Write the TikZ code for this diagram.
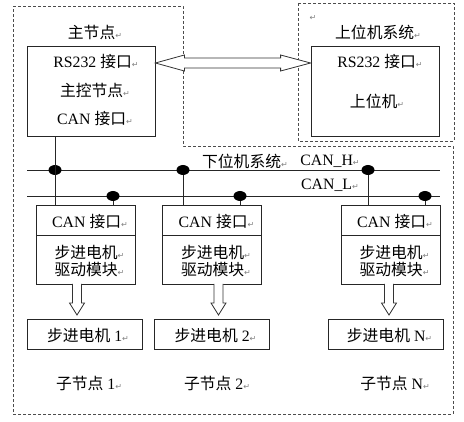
\documentclass[tikz,border=0pt]{standalone}
\usepackage{fontspec}
\setmainfont{Liberation Serif}
\newfontfamily\cjk{Noto Sans CJK SC}
\newfontfamily\symf{DejaVu Sans}
\usetikzlibrary{shapes.geometric,calc}
\newcommand\rmark{{\symf\fontsize{8}{8}\selectfont\color{gray}↵}}
\begin{document}
\begin{tikzpicture}[x=1pt,y=-1pt,
  box/.style={draw=black!85,line width=0.8pt,inner sep=0pt},
  txt/.style={inner sep=0pt,font=\fontsize{15.8}{17}\selectfont},
  dashbox/.style={draw=black!70,line width=0.9pt,dash pattern=on 3pt off 2pt},
  dot/.style={ellipse,fill=black,inner sep=0pt,minimum width=13pt,minimum height=10pt},
  bus/.style={line width=0.9pt,black!85},
  hollow/.style={draw=black!80,fill=white,line width=0.8pt,line join=miter}]
\useasboundingbox (0,0) rectangle (464,422);
% dashed outlines
\draw[dashbox] (13,6) -- (183,6) -- (183,146) -- (453,146) -- (453,414) -- (13,414) -- cycle;
\draw[dashbox] (298,3) rectangle (454,141);
% master box
\node[box,minimum width=128pt,minimum height=90pt] (master) at (91,91) {};
\node[txt] (tmaster) at (95,32) {\cjk 主节点\rmark};
\node[txt] (m1) at (96,62) {RS232 {\cjk 接口}\rmark};
\node[txt] (m2) at (95,90) {\cjk 主控节点\rmark};
\node[txt] (m3) at (95,119) {CAN {\cjk 接口}\rmark};
% upper computer box
\node[box,minimum width=128pt,minimum height=90pt] (upper) at (375,91) {};
\node[txt] (tupper) at (378,32) {\cjk 上位机系统\rmark};
\node[inner sep=0pt] (uret) at (313,18) {\rmark};
\node[txt] (u1) at (380,62) {RS232 {\cjk 接口}\rmark};
\node[txt] (u2) at (377,101) {\cjk 上位机\rmark};
% double arrow
\coordinate (aL) at (master.east |- 0,63);
\coordinate (aR) at (upper.west |- 0,63);
\draw[hollow] (aL) -- ($(aL)+(29,-8)$) -- ($(aL)+(29,-5)$) -- ($(aR)+(-30,-5)$) -- ($(aR)+(-30,-8)$) -- (aR)
  -- ($(aR)+(-30,8)$) -- ($(aR)+(-30,5)$) -- ($(aL)+(29,5)$) -- ($(aL)+(29,8)$) -- cycle;
% lower system labels
\node[txt] (tlower) at (245,161) {\cjk 下位机系统\rmark};
\node[txt] (th) at (330,161) {CAN\_H\rmark};
\node[txt] (tl) at (330,185) {CAN\_L\rmark};
% buses
\coordinate (hL) at (27,170); \coordinate (hR) at (440,170);
\coordinate (lL) at (27,196); \coordinate (lR) at (440,196);
\draw[bus] (hL) -- (hR);
\draw[bus] (lL) -- (lR);
% sub nodes
\foreach \i/\cx/\mx/\ax/\lx/\n in {1/85.5/84.5/77/89/1, 2/212/212/218.5/217/2, 3/390.5/386/389/395/N}{
  \node[box,minimum width=99pt,minimum height=30pt] (can\i) at (\cx,220) {};
  \node[box,minimum width=99pt,minimum height=49pt] (drv\i) at (\cx,259.5) {};
  \node[txt] (tcan\i) at (\cx+4.5,222) {CAN {\cjk 接口}\rmark};
  \node[txt] (tdrva\i) at (\cx+4,252) {\cjk 步进电机\rmark};
  \node[txt] (tdrvb\i) at (\cx+4,270) {\cjk 驱动模块\rmark};
  \node[box,minimum width=115pt,minimum height=30pt] (mot\i) at (\mx,334.5) {};
  \node[txt] (tmot\i) at (\mx+3.5,335) {{\cjk 步进电机} \n\rmark};
  \node[txt] (tsub\i) at (\lx,383) {{\cjk 子节点} \n\rmark};
  \coordinate (d\i) at (\ax,284);
  \draw[hollow] ($(d\i)+(-4.5,0)$) -- ($(d\i)+(-4.5,19)$) -- ($(d\i)+(-7.5,19)$) -- ($(d\i)+(0,31)$)
    -- ($(d\i)+(7.5,19)$) -- ($(d\i)+(4.5,19)$) -- ($(d\i)+(4.5,0)$);
}
% dots
\node[dot] (h1) at (55,170) {};
\node[dot] (h2) at (183,170) {};
\node[dot] (h3) at (368,170) {};
\node[dot] (l1) at (113,196) {};
\node[dot] (l2) at (240,196) {};
\node[dot] (l3) at (425,196) {};
% drops
\draw[bus] (h1 |- master.south) -- (h1 |- can1.north);
\draw[bus] (h2) -- (h2 |- can2.north);
\draw[bus] (h3) -- (h3 |- can3.north);
\draw[bus] (l1) -- (l1 |- can1.north);
\draw[bus] (l2) -- (l2 |- can2.north);
\draw[bus] (l3) -- (l3 |- can3.north);
\end{tikzpicture}
\end{document}
